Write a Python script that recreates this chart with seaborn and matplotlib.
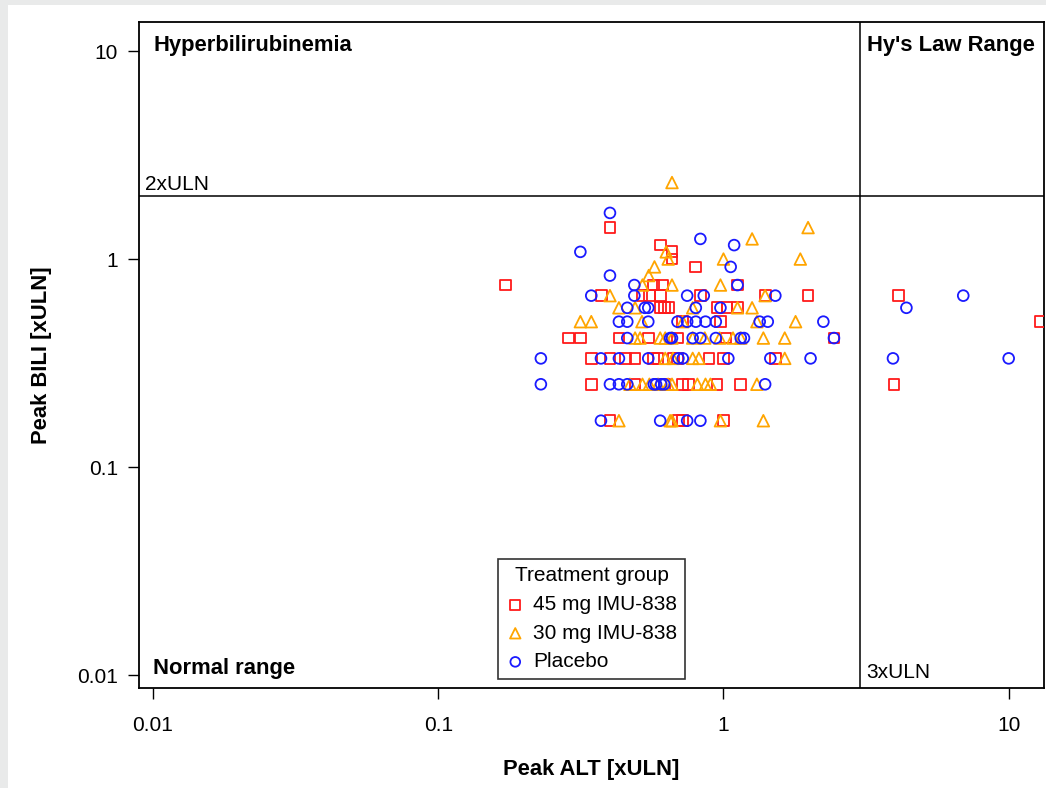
import matplotlib
matplotlib.use("Agg")
import matplotlib.pyplot as plt
from matplotlib.patches import Rectangle
from matplotlib.ticker import NullLocator, FixedLocator, FixedFormatter
import seaborn as sns
import pandas as pd

# ---------------- data (Peak ALT xULN, Peak BILI xULN) ----------------
groups = ["45 mg IMU-838", "30 mg IMU-838", "Placebo"]

alt_45 = [0.40, 0.60, 0.66, 0.66, 0.80,
          0.172, 0.57, 0.61, 1.12,
          0.373, 0.518, 0.55, 0.60, 0.83, 1.40, 1.98, 4.10,
          0.60, 0.62, 0.64, 0.95, 1.03, 1.12,
          0.72, 0.976, 12.9,
          0.286, 0.315, 0.43, 0.545, 0.69, 1.02, 2.44,
          0.344, 0.40, 0.453, 0.49, 0.568, 0.59, 0.667, 0.69, 0.89, 1.0, 1.52,
          0.344, 0.49, 0.62, 0.72, 0.756, 0.95, 1.15, 3.96,
          0.40, 0.695, 0.72, 1.0]
bili_45 = [1.417, 1.167, 1.083, 1.0, 0.917,
           0.75, 0.75, 0.75, 0.75,
           0.667, 0.667, 0.667, 0.667, 0.667, 0.667, 0.667, 0.667,
           0.583, 0.583, 0.583, 0.583, 0.583, 0.583,
           0.5, 0.5, 0.5,
           0.417, 0.417, 0.417, 0.417, 0.417, 0.417, 0.417,
           0.333, 0.333, 0.333, 0.333, 0.333, 0.333, 0.333, 0.333, 0.333, 0.333, 0.333,
           0.25, 0.25, 0.25, 0.25, 0.25, 0.25, 0.25, 0.25,
           0.167, 0.167, 0.167, 0.167]

alt_30 = [0.66, 1.98, 1.26, 0.63,
          0.64, 1.0, 1.86, 0.573, 0.547,
          0.52, 0.66, 0.976,
          0.40, 1.40,
          0.43, 0.49, 0.78, 1.12, 1.26,
          0.315, 0.344, 0.518, 0.72, 1.31, 1.79,
          0.49, 0.51, 0.60, 0.625, 0.66, 0.78, 0.86, 0.97, 1.08, 1.15, 1.38, 1.64,
          0.625, 0.665, 0.78, 0.82, 1.64,
          0.47, 0.52, 0.55, 0.59, 0.64, 0.66, 0.81, 0.865, 0.90, 1.31,
          0.43, 0.65, 0.66, 0.976, 1.38]
bili_30 = [2.333, 1.417, 1.25, 1.083,
           1.0, 1.0, 1.0, 0.917, 0.833,
           0.75, 0.75, 0.75,
           0.667, 0.667,
           0.583, 0.583, 0.583, 0.583, 0.583,
           0.5, 0.5, 0.5, 0.5, 0.5, 0.5,
           0.417, 0.417, 0.417, 0.417, 0.417, 0.417, 0.417, 0.417, 0.417, 0.417, 0.417, 0.417,
           0.333, 0.333, 0.333, 0.333, 0.333,
           0.25, 0.25, 0.25, 0.25, 0.25, 0.25, 0.25, 0.25, 0.25, 0.25,
           0.167, 0.167, 0.167, 0.167, 0.167]

alt_pl = [0.40, 0.83, 1.09, 0.315, 1.06, 0.40,
          0.487, 1.12,
          0.344, 0.487, 0.746, 0.853, 1.52, 6.93,
          0.46, 0.53, 0.545, 0.80, 0.976, 4.38,
          0.43, 0.46, 0.545, 0.69, 0.746, 0.80, 0.865, 0.94, 1.34, 1.43, 2.24,
          0.46, 0.65, 0.66, 0.78, 0.83, 0.94, 1.15, 1.18, 2.44,
          0.229, 0.372, 0.43, 0.545, 0.695, 0.72, 1.04, 1.46, 2.02, 3.93, 10.0,
          0.229, 0.40, 0.43, 0.46, 0.57, 0.58, 0.605, 0.62, 1.40,
          0.372, 0.60, 0.746, 0.83]
bili_pl = [1.667, 1.25, 1.167, 1.083, 0.917, 0.833,
           0.75, 0.75,
           0.667, 0.667, 0.667, 0.667, 0.667, 0.667,
           0.583, 0.583, 0.583, 0.583, 0.583, 0.583,
           0.5, 0.5, 0.5, 0.5, 0.5, 0.5, 0.5, 0.5, 0.5, 0.5, 0.5,
           0.417, 0.417, 0.417, 0.417, 0.417, 0.417, 0.417, 0.417, 0.417,
           0.333, 0.333, 0.333, 0.333, 0.333, 0.333, 0.333, 0.333, 0.333, 0.333, 0.333,
           0.25, 0.25, 0.25, 0.25, 0.25, 0.25, 0.25, 0.25, 0.25,
           0.167, 0.167, 0.167, 0.167]

tick_vals = [0.01, 0.1, 1, 10]
tick_labels = ["0.01", "0.1", "1", "10"]
uln_bili = 2
uln_alt = 3

# ---------------- styling ----------------
sns.set_style("white")
plt.rcParams["font.family"] = ["Liberation Sans", "DejaVu Sans"]
plt.rcParams["text.color"] = "black"
plt.rcParams["axes.labelcolor"] = "black"

colors = {"45 mg IMU-838": "#ff1a1a", "30 mg IMU-838": "#ffa500", "Placebo": "#1a1aff"}
markers = {"45 mg IMU-838": "s", "30 mg IMU-838": "^", "Placebo": "o"}

df = pd.concat([
    pd.DataFrame({"ALT": alt_45, "BILI": bili_45, "grp": groups[0]}),
    pd.DataFrame({"ALT": alt_30, "BILI": bili_30, "grp": groups[1]}),
    pd.DataFrame({"ALT": alt_pl, "BILI": bili_pl, "grp": groups[2]}),
], ignore_index=True)

W, H = 1046, 788
fig = plt.figure(figsize=(W / 100, H / 100), dpi=100, facecolor="#e9eaea")
fig.patches.append(Rectangle((8 / W, 0), 1 - 8 / W, 1 - 5 / H, transform=fig.transFigure,
                             facecolor="white", edgecolor="none", zorder=-10))
ax = fig.add_axes([139 / W, 1 - 688 / H, (1044 - 139) / W, (688 - 22) / H])
ax.set_zorder(1)
ax.set_facecolor("white")

for g in groups:
    sub = df[df["grp"] == g]
    sns.scatterplot(data=sub, x="ALT", y="BILI", ax=ax, marker=markers[g],
                    s=60 if markers[g] != "^" else 70,
                    facecolor="none", edgecolor=colors[g], color=colors[g],
                    linewidth=1.3, label=g, zorder=3)

ax.set_xscale("log")
ax.set_yscale("log")
ax.set_xlim(0.00893, 13.3)
ax.set_ylim(0.00866, 13.8)

ax.axhline(uln_bili, color="black", lw=1.1, zorder=2)
ax.axvline(uln_alt, color="black", lw=1.1, zorder=2)

for axis in (ax.xaxis, ax.yaxis):
    axis.set_major_locator(FixedLocator(tick_vals))
    axis.set_major_formatter(FixedFormatter(tick_labels))
    axis.set_minor_locator(NullLocator())
ax.tick_params(axis="both", which="major", direction="out", length=8, width=1,
               color="black", labelsize=15, labelcolor="black",
               bottom=True, left=True)
ax.tick_params(axis="x", pad=12.5)
ax.tick_params(axis="y", pad=7)
for sp in ax.spines.values():
    sp.set_color("black")
    sp.set_linewidth(1.3)

ax.set_xlabel("Peak ALT [xULN]", fontsize=15.8, fontweight="bold", labelpad=17)
ax.set_ylabel("Peak BILI [xULN]", fontsize=15.8, fontweight="bold", labelpad=18)

tr = ax.transAxes
ax.text(0.0155, 0.965, "Hyperbilirubinemia", transform=tr, fontsize=15.8,
        fontweight="bold", va="center", ha="left")
ax.text(0.804, 0.965, "Hy's Law Range", transform=tr, fontsize=15.8,
        fontweight="bold", va="center", ha="left")
ax.text(0.0066, 0.756, "2xULN", transform=tr, fontsize=15, va="center", ha="left")
ax.text(0.804, 0.023, "3xULN", transform=tr, fontsize=15, va="center", ha="left")
ax.text(0.0155, 0.030, "Normal range", transform=tr, fontsize=15.8,
        fontweight="bold", va="center", ha="left")

leg = ax.legend(title="Treatment group", loc="lower center", bbox_to_anchor=(0.5, 0.0),
                borderaxespad=0.42, fontsize=15, title_fontsize=15, frameon=True,
                fancybox=False, edgecolor="black", handletextpad=0.4,
                handlelength=0.9, labelspacing=0.46, borderpad=0.38, markerscale=0.9)
leg.get_frame().set_linewidth(1.2)
leg._legend_box.sep = 7
leg.set_zorder(5)

fig.savefig("out.png", dpi=100, facecolor=fig.get_facecolor())
